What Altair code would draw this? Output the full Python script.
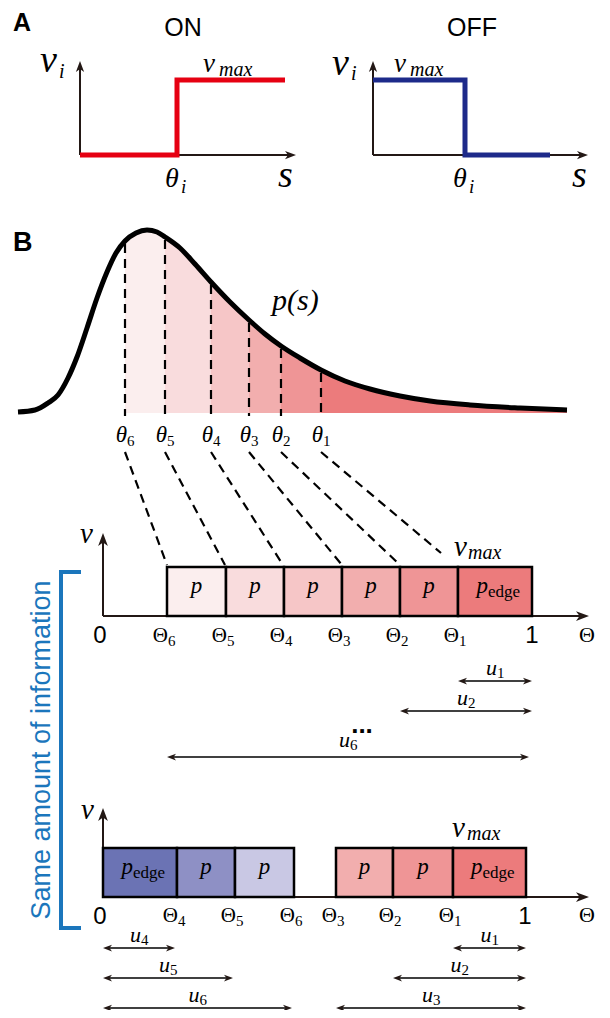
import altair as alt
import pandas as pd

# ---------------- values (canvas pixels) ----------------
# Panel A: step response curves
on_step_x = [80, 177, 177, 285]
on_step_y = [155, 155, 80, 80]
off_step_x = [373, 465, 465, 550]
off_step_y = [80, 80, 155, 155]

# Panel B: density p(s)
curve_x = [18, 35, 48, 58, 68, 77, 87, 97, 107, 116, 125, 136, 147, 157, 165, 180, 195,
           211, 230, 249, 265, 281, 300, 321, 345, 370, 400, 430, 470, 520, 567]
curve_y = [412, 410, 403, 395, 378, 357, 328, 298, 272, 253, 241, 233, 230, 232, 237, 248, 264,
           282, 302, 320, 334, 346, 358, 370, 381, 389, 396, 401, 405, 408, 410]
theta_names = ["1", "2", "3", "4", "5", "6"]
theta_x = [321, 281, 249, 211, 165, 125]
red_fills = ["#ec7b7c", "#ef9596", "#f2aeae", "#f6c6c7", "#f9dcdd", "#fbeeee"]  # theta1 .. theta6 side
blue_fills = ["#6b73b4", "#8e90c5", "#c9c8e4"]

# top tiling
top_names = ["6", "5", "4", "3", "2", "1"]
top_edges = [167, 226, 284, 342, 400, 458, 532]
slant_end_x = [441, 400, 342, 283, 225, 167]   # theta1 .. theta6
slant_end_y = [553, 565, 565, 565, 565, 565]

# bottom tiling
blue_names = ["4", "5", "6"]
blue_edges = [103, 177, 235, 294]
red_names = ["3", "2", "1"]
red_edges = [336, 393, 453, 526]

# u arrows: (start, end, row y, index)
u_top = [(458, 532, 681, "1"), (400, 532, 711, "2"), (167, 529, 757, "6")]
u_bottom = [(103, 175, 948, "4"), (103, 233, 978, "5"), (103, 292, 1008, "6"),
            (453, 526, 948, "1"), (393, 526, 978, "2"), (336, 526, 1008, "3")]

INK = "#231815"
RED = "#e60012"
NAVY = "#1d2a8a"
BLUE = "#1b76bc"
SERIF = "Liberation Serif"
SANS = "Liberation Sans"

XS = alt.Scale(domain=[8, 602], nice=False, zero=False)
YS = alt.Scale(domain=[8, 1010], nice=False, zero=False, reverse=True)
X = alt.X("x:Q", scale=XS, axis=None)
Y = alt.Y("y:Q", scale=YS, axis=None)

layers = []

# ---------------- filled segments under p(s) ----------------
bounds = sorted(theta_x) + [curve_x[-1]]
fills_lr = red_fills[::-1]
rows = []
for i in range(6):
    lo, hi = bounds[i], bounds[i + 1]
    for cx, cy in zip(curve_x, curve_y):
        if lo <= cx <= hi:
            rows.append(dict(x=cx, y=cy, base=413, seg=i, col=fills_lr[i]))
layers.append(alt.Chart(pd.DataFrame(rows)).mark_area(interpolate="monotone").encode(
    x=X, y=Y, y2=alt.Y2("base:Q"), detail="seg:N", fill=alt.Fill("col:N", scale=None)))

# vertical dashed thresholds
cy_at = dict(zip(curve_x, curve_y))
vd = pd.DataFrame([dict(x=tx, x2=tx, y=cy_at[tx] + 3, y2=416) for tx in theta_x])
layers.append(alt.Chart(vd).mark_rule(strokeWidth=2.2, strokeDash=[9, 6], color="black").encode(
    x=X, y=Y, x2="x2:Q", y2="y2:Q"))

# curve
layers.append(alt.Chart(pd.DataFrame(dict(x=curve_x, y=curve_y))).mark_line(
    interpolate="monotone", strokeWidth=5, color="black").encode(x=X, y=Y))

# slanted dashed connectors
sd = pd.DataFrame([dict(x=tx, y=452, x2=ex, y2=ey) for tx, ex, ey in zip(theta_x, slant_end_x, slant_end_y)])
layers.append(alt.Chart(sd).mark_rule(strokeWidth=2.2, strokeDash=[9, 6], color="black").encode(
    x=X, y=Y, x2="x2:Q", y2="y2:Q"))

# ---------------- axes ----------------
axes = pd.DataFrame([
    dict(x=80, y=155, x2=80, y2=66), dict(x=80, y=155, x2=292, y2=155),
    dict(x=373, y=155, x2=373, y2=66), dict(x=373, y=155, x2=584, y2=155),
    dict(x=103, y=616, x2=103, y2=540), dict(x=103, y=616, x2=584, y2=616),
    dict(x=103, y=897, x2=103, y2=815), dict(x=103, y=897, x2=584, y2=897),
])
layers.append(alt.Chart(axes).mark_rule(strokeWidth=2, color=INK).encode(
    x=X, y=Y, x2="x2:Q", y2="y2:Q"))

ARROW = "M0,0L-2,-0.75L-1.45,0L-2,0.75Z"
heads = [
    dict(x=80, y=61, ang=270, sz=121), dict(x=296, y=155, ang=0, sz=121),
    dict(x=373, y=61, ang=270, sz=121), dict(x=588, y=155, ang=0, sz=121),
    dict(x=103, y=533, ang=270, sz=169), dict(x=589, y=616, ang=0, sz=169),
    dict(x=103, y=808, ang=270, sz=169), dict(x=589, y=897, ang=0, sz=169),
]
shafts = []
for a, b, yy, n in u_top + u_bottom:
    shafts.append(dict(x=a + 3, x2=b - 3, y=yy, y2=yy))
    heads.append(dict(x=a, y=yy, ang=180, sz=81))
    heads.append(dict(x=b, y=yy, ang=0, sz=81))
layers.append(alt.Chart(pd.DataFrame(shafts)).mark_rule(strokeWidth=1.5, color="black").encode(
    x=X, y=Y, x2="x2:Q", y2="y2:Q"))

# step lines
step_rows = []
for k, (sx, sy, c) in enumerate([(on_step_x, on_step_y, RED), (off_step_x, off_step_y, NAVY)]):
    for o, (a, b) in enumerate(zip(sx, sy)):
        step_rows.append(dict(x=a, y=b, o=o, g=k, col=c))
layers.append(alt.Chart(pd.DataFrame(step_rows)).mark_line(
    strokeWidth=5, strokeJoin="miter", strokeCap="butt").encode(
    x=X, y=Y, order="o:Q", detail="g:N", color=alt.Color("col:N", scale=None)))

layers.append(alt.Chart(pd.DataFrame(heads)).mark_point(
    shape=ARROW, filled=True, opacity=1, strokeWidth=0, color=INK).encode(
    x=X, y=Y, angle=alt.Angle("ang:Q", scale=None), size=alt.Size("sz:Q", scale=None)))

# ---------------- tiling boxes ----------------
boxes = []
box_labels = []
for i in range(6):
    boxes.append(dict(x=top_edges[i], x2=top_edges[i + 1], y=567, y2=616, col=red_fills[::-1][i]))
    box_labels.append(((top_edges[i] + top_edges[i + 1]) / 2, 593, i == 5))
for i in range(3):
    boxes.append(dict(x=blue_edges[i], x2=blue_edges[i + 1], y=848, y2=897, col=blue_fills[i]))
    box_labels.append(((blue_edges[i] + blue_edges[i + 1]) / 2, 874, i == 0))
    boxes.append(dict(x=red_edges[i], x2=red_edges[i + 1], y=848, y2=897, col=red_fills[::-1][3 + i]))
    box_labels.append(((red_edges[i] + red_edges[i + 1]) / 2, 874, i == 2))
layers.append(alt.Chart(pd.DataFrame(boxes)).mark_rect(stroke="black", strokeWidth=2.5).encode(
    x=X, y=Y, x2="x2:Q", y2="y2:Q", fill=alt.Fill("col:N", scale=None)))

# bracket
br = pd.DataFrame(dict(x=[81, 61, 61, 81], y=[572, 572, 928, 928], o=[0, 1, 2, 3]))
layers.append(alt.Chart(br).mark_line(strokeWidth=4, color=BLUE, strokeJoin="miter").encode(
    x=X, y=Y, order="o:Q"))

# ---------------- texts ----------------
texts = []


def T(t, x, y, size, font=SERIF, style="italic", weight="normal", align="left", color="black", angle=0):
    texts.append(dict(t=t, x=x, y=y, size=size, font=font, style=style, weight=weight,
                      align=align, color=color, angle=angle))


T("A", 13, 31, 25, font=SANS, style="normal", weight="bold")
T("B", 13, 251, 27, font=SANS, style="normal", weight="bold")
T("ON", 183, 36, 25, font=SANS, style="normal", align="center")
T("OFF", 472, 36, 25, font=SANS, style="normal", align="center")

# panel A math
T("ν", 40, 72, 38); T("i", 59, 78, 20)
T("ν", 203, 72, 27); T("max", 219, 76, 20)
T("θ", 165, 187, 28); T("i", 181, 193, 19)
T("s", 278, 187, 38)
T("ν", 332, 75, 38); T("i", 351, 80, 20)
T("ν", 394, 72, 27); T("max", 410, 76, 20)
T("θ", 453, 187, 28); T("i", 469, 193, 19)
T("s", 572, 187, 38)

# panel B
T("p(s)", 272, 310, 30)
for n, tx in zip(theta_names, theta_x):
    T("θ", tx + 2, 442, 23, align="right")
    T(n, tx + 2, 446, 15, style="normal")

T("ν", 80, 543, 29); T("ν", 81, 819, 29)
T("ν", 454, 556, 29); T("max", 468, 559, 20)
T("ν", 452, 837, 29); T("max", 467, 840, 20)

for cx, by, edge in box_labels:
    if edge:
        T("p", cx - 7, by, 23, align="right")
        T("edge", cx - 7, by + 4, 17, style="normal")
    else:
        T("p", cx, by, 23, align="center")

for n, xe in zip(top_names, top_edges[:-1]):
    T("Θ", xe + 1, 642, 21, style="normal", align="right")
    T(n, xe + 1, 646, 15, style="normal")
for names, edges in [(blue_names, blue_edges[1:]), (red_names, red_edges[:-1])]:
    for n, xe in zip(names, edges):
        T("Θ", xe + 1, 922, 21, style="normal", align="right")
        T(n, xe + 1, 926, 15, style="normal")
T("Θ", 587, 642, 22, style="normal", align="center")
T("Θ", 587, 922, 22, style="normal", align="center")
T("0", 100, 643, 24, font=SANS, style="normal", align="center")
T("1", 532, 643, 24, font=SANS, style="normal", align="center")
T("0", 100, 924, 24, font=SANS, style="normal", align="center")
T("1", 525, 924, 24, font=SANS, style="normal", align="center")

for a, b, yy, n in u_top + u_bottom:
    c = (a + b) / 2 + 2
    off = 10 if (n == "6" and yy == 757) else 6
    T("u", c, yy - off, 22, align="right")
    T(n, c, yy - off + 3, 15, style="normal")
T("...", 362, 733, 26, font=SANS, style="normal", weight="bold", align="center")

T("Same amount of information", 50, 750, 27, font=SANS, style="normal", align="center",
  color=BLUE, angle=270)

tdf = pd.DataFrame(texts)
for key, g in tdf.groupby(["font", "style", "weight", "align", "color", "angle"]):
    font, style, weight, align, color, angle = key
    layers.append(alt.Chart(g).mark_text(
        font=font, fontStyle=style, fontWeight=weight, align=align, baseline="alphabetic",
        color=color, angle=int(angle)).encode(
        x=X, y=Y, text="t:N", size=alt.Size("size:Q", scale=None)))

chart = alt.layer(*layers).properties(
    width=594, height=1002, padding=0, autosize=alt.AutoSizeParams(type="none"),
    background="white").configure_view(strokeWidth=0)

chart.save("out.html", embed_options={"renderer": "svg", "actions": False})
